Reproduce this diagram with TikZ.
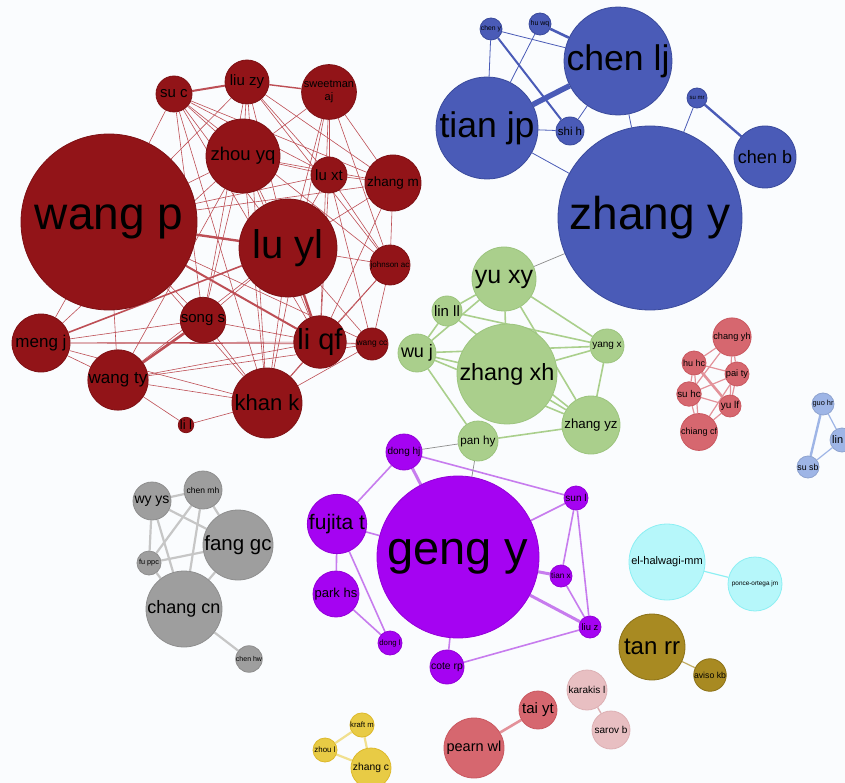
\documentclass[tikz,border=0pt]{standalone}
\usepackage{fontspec}
\setmainfont{Liberation Sans}
\usetikzlibrary{arrows,shapes,calc}
\pgfdeclarelayer{back}
\pgfdeclarelayer{bg}
\pgfsetlayers{back,bg,main}

\definecolor{paper}{HTML}{FAFCFE}
\definecolor{redfill}{HTML}{921418}
\definecolor{redline}{HTML}{7E1014}
\definecolor{rededge}{HTML}{BD4E55}
\definecolor{bluefill}{HTML}{4A5BB7}
\definecolor{blueline}{HTML}{3A4A9C}
\definecolor{greenfill}{HTML}{AACF8C}
\definecolor{greenline}{HTML}{9CC47E}
\definecolor{purpfill}{HTML}{A503F2}
\definecolor{purpline}{HTML}{9300D8}
\definecolor{purpedge}{HTML}{C77CEE}
\definecolor{grayfill}{HTML}{9E9E9E}
\definecolor{grayline}{HTML}{8E8E8E}
\definecolor{grayedge}{HTML}{C6C6C6}
\definecolor{pinkfill}{HTML}{D6676F}
\definecolor{pinkline}{HTML}{C95860}
\definecolor{pinkedge}{HTML}{E3929A}
\definecolor{lbluefill}{HTML}{9EB5E6}
\definecolor{cyanfill}{HTML}{B6F7FA}
\definecolor{cyanline}{HTML}{8CEFF3}
\definecolor{olivefill}{HTML}{A88A22}
\definecolor{oliveline}{HTML}{8C7218}
\definecolor{rosefill}{HTML}{E8BFC2}
\definecolor{roseline}{HTML}{DDB0B4}
\definecolor{yelfill}{HTML}{E8CB45}
\definecolor{yelline}{HTML}{DDB92C}
\definecolor{crossedge}{HTML}{8C8C8C}

\newcommand{\nfs}[1]{\fontsize{#1}{#1}\selectfont}

\begin{document}
\begin{tikzpicture}[x=1pt,y=-1pt,
	au/.style={circle,inner sep=0pt,minimum size=#1,line width=0.8pt,text=black},
	redn/.style={fill=redfill,draw=redline},
	bluen/.style={fill=bluefill,draw=blueline},
	greenn/.style={fill=greenfill,draw=greenline},
	purpn/.style={fill=purpfill,draw=purpline},
	grayn/.style={fill=grayfill,draw=grayline},
	pinkn/.style={fill=pinkfill,draw=pinkline},
	lbluen/.style={fill=lbluefill,draw=lbluefill!90!black},
	cyann/.style={fill=cyanfill,draw=cyanline},
	oliven/.style={fill=olivefill,draw=oliveline},
	rosen/.style={fill=rosefill,draw=roseline},
	yeln/.style={fill=yelfill,draw=yelline},
	redl/.style={draw=rededge,line width=0.6pt},
	bluel/.style={draw=bluefill,line width=0.8pt},
	greenl/.style={draw=greenfill,line width=1.6pt},
	purpl/.style={draw=purpedge,line width=1.6pt},
	grayl/.style={draw=grayedge,line width=2.2pt},
	pinkl/.style={draw=pinkedge,line width=1.2pt},
	crossl/.style={draw=crossedge,line width=0.7pt}]
	
	\begin{pgfonlayer}{back}
	\fill[paper] (0,0) rectangle (845,783);
	\end{pgfonlayer}
	\useasboundingbox (0,0) rectangle (845,783);
	
	% red group
	\node[au=176,redn,font=\nfs{46}] (wangp) at (109,222) {wang p};
	\node[au=98,redn,font=\nfs{40}] (luyl) at (288,248) {lu yl};
	\node[au=74,redn,font=\nfs{18.5}] (zhouyq) at (243,156) {zhou yq};
	\node[au=36,redn,font=\nfs{15}] (suc) at (174,94) {su c};
	\node[au=44,redn,font=\nfs{15}] (liuzy) at (247,82) {liu zy};
	\node[au=52,redn,font=\fontsize{11}{13}\selectfont,align=center] (sweet) at (329,92) {sweetman\\aj};
	\node[au=36,redn,font=\nfs{15}] (luxt) at (329,175) {lu xt};
	\node[au=56,redn,font=\nfs{13.5}] (zhangm) at (393,183) {zhang m};
	\node[au=40,redn,font=\nfs{8}] (johnson) at (390,265) {johnson ac};
	\node[au=44,redn,font=\nfs{15}] (songs) at (203,320) {song s};
	\node[au=48,redn,font=\nfs{29}] (liqf) at (320,342) {li qf};
	\node[au=32,redn,font=\nfs{8.4}] (wangcc) at (372,344) {wang cc};
	\node[au=58,redn,font=\nfs{17}] (mengj) at (41,343) {meng j};
	\node[au=60,redn,font=\nfs{17}] (wangty) at (118,380) {wang ty};
	\node[au=70,redn,font=\nfs{22}] (khank) at (267,403) {khan k};
	\node[au=14,redn,font=\nfs{13}] (lil) at (186,425) {li l};
	
	% blue group
	\node[au=104,bluen,font=\nfs{35.6}] (chenlj) at (618,61) {chen lj};
	\node[au=102,bluen,font=\nfs{35.6}] (tianjp) at (487,128) {tian jp};
	\node[au=184,bluen,font=\nfs{46}] (zhangy) at (650,218) {zhang y};
	\node[au=62,bluen,font=\nfs{18}] (chenb) at (765,157) {chen b};
	\node[au=20,bluen,font=\nfs{6}] (sumr) at (697,98) {su mr};
	\node[au=28,bluen,font=\nfs{11.5}] (shih) at (570,131) {shi h};
	\node[au=22,bluen,font=\nfs{6.8}] (cheny) at (491,29) {chen y};
	\node[au=22,bluen,font=\nfs{7}] (huwq) at (540,24) {hu wq};
	
	% green group
	\node[au=64,greenn,font=\nfs{25}] (yuxy) at (504,279) {yu xy};
	\node[au=30,greenn,font=\nfs{15}] (linll) at (447,311) {lin ll};
	\node[au=38,greenn,font=\nfs{18}] (wuj) at (417,353) {wu j};
	\node[au=100,greenn,font=\nfs{23.4}] (zhangxh) at (507,374) {zhang xh};
	\node[au=34,greenn,font=\nfs{10}] (yangx) at (607,346) {yang x};
	\node[au=58,greenn,font=\nfs{13.3}] (zhangyz) at (591,425) {zhang yz};
	\node[au=40,greenn,font=\nfs{11.7}] (panhy) at (478,441) {pan hy};
	
	% purple group
	\node[au=162,purpn,font=\nfs{47}] (gengy) at (458,557) {geng y};
	\node[au=36,purpn,font=\nfs{10}] (donghj) at (404,452) {dong hj};
	\node[au=58,purpn,font=\nfs{21}] (fujitat) at (337,524) {fujita t};
	\node[au=46,purpn,font=\nfs{13}] (parkhs) at (336,594) {park hs};
	\node[au=24,purpn,font=\nfs{7.8}] (dongl) at (390,643) {dong l};
	\node[au=34,purpn,font=\nfs{10.4}] (coterp) at (447,667) {cote rp};
	\node[au=24,purpn,font=\nfs{10}] (sunl) at (576,498) {sun l};
	\node[au=22,purpn,font=\nfs{8.2}] (tianx) at (561,576) {tian x};
	\node[au=22,purpn,font=\nfs{9.4}] (liuz) at (590,627) {liu z};
	
	% gray group
	\node[au=38,grayn,font=\nfs{14}] (wyys) at (152,501) {wy ys};
	\node[au=38,grayn,font=\nfs{8.5}] (chenmh) at (203,490) {chen mh};
	\node[au=70,grayn,font=\nfs{20.5}] (fanggc) at (238,545) {fang gc};
	\node[au=24,grayn,font=\nfs{7.3}] (fuppc) at (149,563) {fu ppc};
	\node[au=76,grayn,font=\nfs{18}] (changcn) at (184,609) {chang cn};
	\node[au=26,grayn,font=\nfs{7}] (chenhw) at (249,659) {chen hw};
	
	% pink group
	\node[au=38,pinkn,font=\nfs{9.2}] (changyh) at (732,337) {chang yh};
	\node[au=24,pinkn,font=\nfs{9}] (huhc) at (694,363) {hu hc};
	\node[au=24,pinkn,font=\nfs{9.3}] (paity) at (737,374) {pai ty};
	\node[au=24,pinkn,font=\nfs{9.8}] (suhc) at (689,394) {su hc};
	\node[au=22,pinkn,font=\nfs{10}] (yulf) at (730,406) {yu lf};
	\node[au=36,pinkn,font=\nfs{9}] (chiangcf) at (699,432) {chiang cf};
	
	% small groups
	\node[au=22,lbluen,font=\nfs{7.4}] (guohr) at (823,404) {guo hr};
	\node[au=24,lbluen,font=\nfs{11}] (linc) at (842,440) {lin c};
	\node[au=22,lbluen,font=\nfs{8.8}] (susb) at (808,467) {su sb};
	\node[au=76,cyann,font=\nfs{11}] (elh) at (667,562) {el-halwagi-mm};
	\node[au=54,cyann,font=\nfs{6.4}] (ponce) at (755,584) {ponce-ortega jm};
	\node[au=66,oliven,font=\nfs{24}] (tanrr) at (652,647) {tan rr};
	\node[au=32,oliven,font=\nfs{8.7}] (aviso) at (710,675) {aviso kb};
	\node[au=40,rosen,font=\nfs{10}] (karakis) at (587,690) {karakis l};
	\node[au=38,rosen,font=\nfs{10}] (sarov) at (611,730) {sarov b};
	\node[au=38,pinkn,font=\nfs{15}] (taiyt) at (538,710) {tai yt};
	\node[au=60,pinkn,font=\nfs{14.5}] (pearn) at (474,748) {pearn wl};
	\node[au=24,yeln,font=\nfs{7.7}] (kraftm) at (362,725) {kraft m};
	\node[au=24,yeln,font=\nfs{7.9}] (zhoul) at (325,750) {zhou l};
	\node[au=40,yeln,font=\nfs{10.3}] (zhangc) at (371,768) {zhang c};
	
	\begin{pgfonlayer}{bg}
	% red links
	\foreach \a/\b in {suc/wangp,suc/zhouyq,suc/luyl,suc/luxt,suc/zhangm,suc/songs,suc/liqf,suc/khank,suc/johnson,
		liuzy/zhouyq,liuzy/luyl,liuzy/luxt,liuzy/zhangm,liuzy/wangp,liuzy/songs,liuzy/khank,liuzy/johnson,
		sweet/zhouyq,sweet/luxt,sweet/zhangm,sweet/luyl,sweet/johnson,sweet/liqf,sweet/khank,
		zhouyq/luxt,zhouyq/zhangm,zhouyq/wangp,zhouyq/luyl,zhouyq/songs,zhouyq/liqf,zhouyq/khank,zhouyq/mengj,zhouyq/wangty,
		luxt/zhangm,luxt/luyl,luxt/johnson,luxt/liqf,luxt/wangcc,luxt/wangp,
		zhangm/wangp,zhangm/johnson,zhangm/luyl,zhangm/liqf,
		johnson/luyl,johnson/khank,johnson/wangcc,johnson/liqf,
		wangp/songs,wangp/mengj,wangp/wangty,wangp/khank,wangp/wangcc,
		luyl/songs,luyl/wangty,luyl/khank,luyl/wangcc,
		songs/liqf,songs/khank,songs/mengj,
		liqf/wangcc,liqf/mengj,liqf/wangty,liqf/khank,
		wangcc/mengj,wangcc/wangty,wangcc/khank,
		mengj/wangty,mengj/khank,wangty/khank,wangty/lil,khank/lil}
		\draw[redl] (\a) -- (\b);
	\draw[redl,line width=2.4pt] (wangp) -- (luyl);
	\draw[redl,line width=2pt] (wangp) -- (liqf);
	\draw[redl,line width=2.4pt] (luyl) -- (liqf);
	\draw[redl,line width=1.6pt] (luyl) -- (mengj);
	\draw[redl,line width=2.6pt] (songs) -- (wangty);
	\draw[redl,line width=2pt] (suc) -- (liuzy);
	\draw[redl,line width=1.4pt] (liuzy) -- (sweet);
	
	% blue links
	\foreach \a/\b in {cheny/chenlj,cheny/tianjp,huwq/tianjp,tianjp/shih,shih/chenlj,tianjp/zhangy,chenlj/zhangy,sumr/zhangy}
		\draw[bluel] (\a) -- (\b);
	\draw[bluel,line width=2pt] (cheny) -- (shih);
	\draw[bluel,line width=2.6pt] (huwq) -- (chenlj);
	\draw[bluel,line width=5.5pt] (tianjp) -- (chenlj);
	\draw[bluel,line width=2.4pt] (sumr) -- (chenb);
	
	% green links
	\foreach \a/\b in {yuxy/linll,yuxy/wuj,yuxy/zhangxh,yuxy/yangx,yuxy/zhangyz,linll/wuj,linll/yangx,linll/zhangyz,
		wuj/yangx,wuj/zhangxh,wuj/zhangyz,wuj/panhy,zhangxh/yangx,zhangxh/zhangyz,yangx/zhangyz,panhy/zhangyz}
		\draw[greenl] (\a) -- (\b);
	
	% purple links
	\foreach \a/\b in {donghj/fujitat,donghj/sunl,fujitat/gengy,fujitat/parkhs,fujitat/dongl,parkhs/dongl,
		gengy/sunl,gengy/coterp,sunl/tianx,sunl/liuz,tianx/liuz,coterp/liuz}
		\draw[purpl] (\a) -- (\b);
	\draw[purpl,line width=3pt] (donghj) -- (gengy);
	\draw[purpl,line width=3pt] (gengy) -- (tianx);
	\draw[purpl,line width=3pt] (gengy) -- (liuz);
	
	% gray links
	\foreach \a/\b in {wyys/chenmh,wyys/fanggc,wyys/fuppc,wyys/changcn,chenmh/fanggc,chenmh/fuppc,chenmh/changcn,
		fuppc/fanggc,fuppc/changcn,fanggc/changcn,changcn/chenhw}
		\draw[grayl] (\a) -- (\b);
	
	% pink links
	\foreach \a/\b in {changyh/huhc,changyh/paity,changyh/suhc,changyh/yulf,huhc/paity,huhc/suhc,huhc/chiangcf,
		paity/suhc,paity/yulf,paity/chiangcf,suhc/yulf,suhc/chiangcf,yulf/chiangcf}
		\draw[pinkl] (\a) -- (\b);
	\draw[pinkl,line width=2.6pt] (huhc) -- (yulf);
	
	% the rest
	\draw[draw=lbluefill,line width=2.4pt] (guohr) -- (susb);
	\draw[draw=lbluefill,line width=1.2pt] (guohr) -- (linc);
	\draw[draw=lbluefill,line width=1.2pt] (susb) -- (linc);
	\draw[draw=cyanline,line width=1.2pt] (elh.center) -- (ponce);
	\draw[draw=olivefill!70,line width=1.2pt] (tanrr.center) -- (aviso);
	\draw[draw=roseline,line width=1.4pt] (karakis) -- (sarov);
	\draw[draw=pinkedge,line width=2.6pt] (taiyt) -- (pearn);
	\foreach \a/\b in {kraftm/zhoul,kraftm/zhangc,zhoul/zhangc}
		\draw[draw=yelfill!60,line width=2.2pt] (\a) -- (\b);
	
	% between groups
	\draw[crossl] (zhangy) -- (yuxy);
	\draw[crossl] (panhy) -- (donghj);
	\draw[crossl] (panhy) -- (gengy);
	\end{pgfonlayer}
	
\end{tikzpicture}
\end{document}
